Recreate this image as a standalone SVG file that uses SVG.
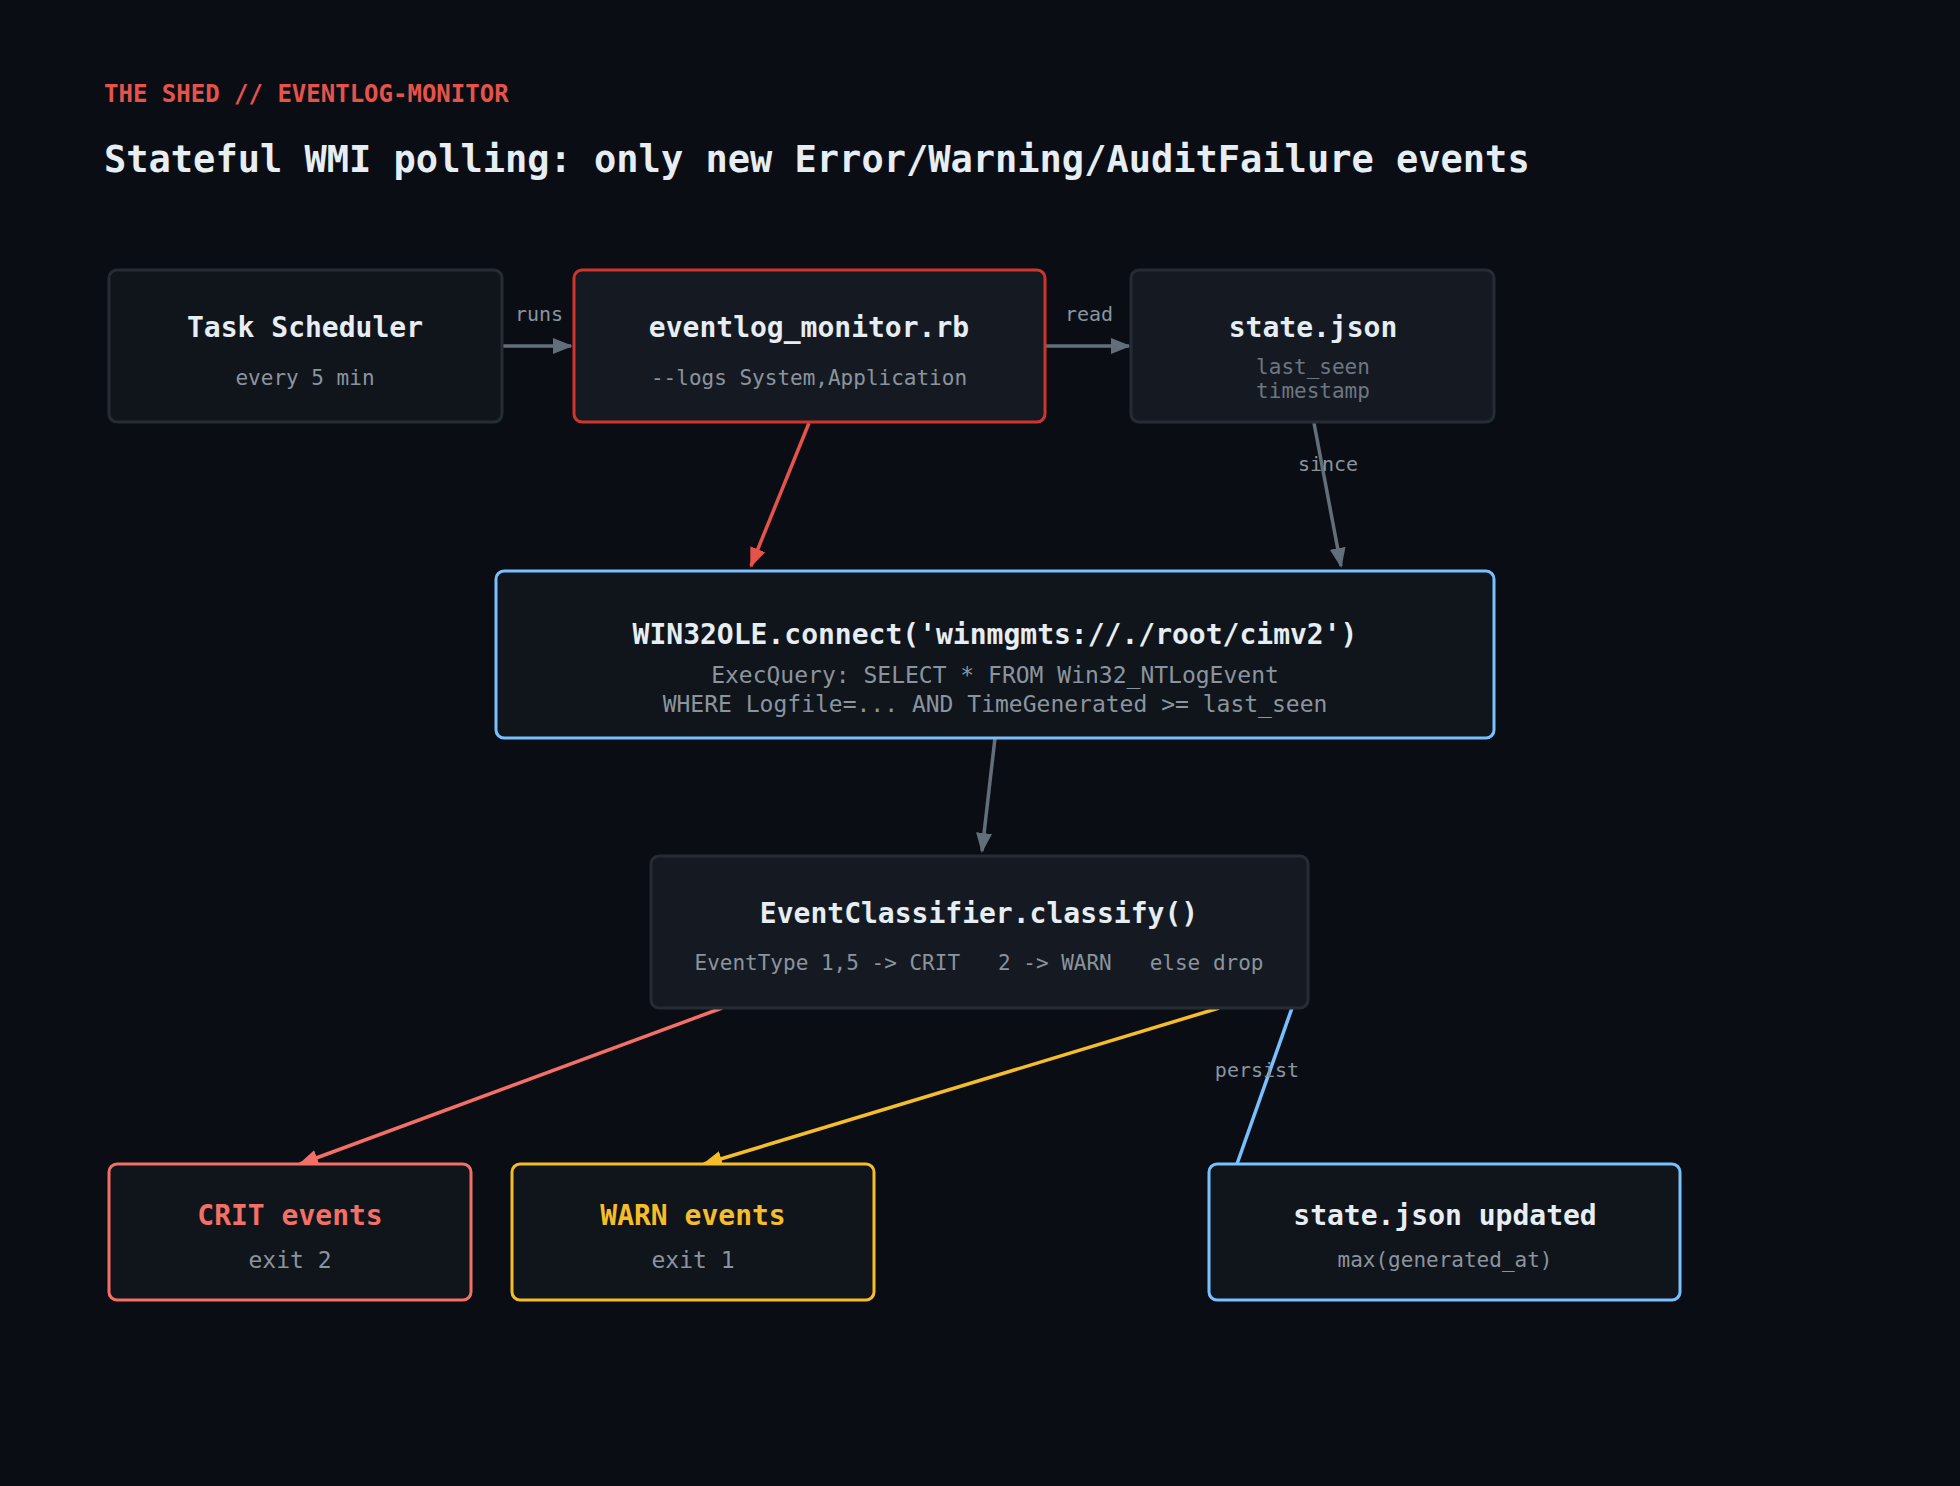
<svg xmlns="http://www.w3.org/2000/svg" width="1960" height="1486" viewBox="0 0 1960 1486">
<defs>
<style>
text{font-family:"DejaVu Sans Mono","Liberation Mono",monospace;text-anchor:middle}
.t{font-size:28px;font-weight:bold;fill:#e6edf3}
.s{font-size:21px;fill:#8b949e}
.d{font-size:21px;fill:#6e7681}
.l{font-size:20px;fill:#8b949e}
.box{fill:#10151c;stroke:#262c36;stroke-width:3}
.e{fill:none;stroke-width:3.5}
</style>
<marker id="ag" viewBox="0 0 10 10" refX="9" refY="5" markerWidth="6" markerHeight="6" orient="auto" markerUnits="userSpaceOnUse" style="overflow:visible"><path d="M0,0L10,5L0,10z" fill="#636e7b" transform="scale(2.2) translate(-5,-5) translate(5,5)"/></marker>
<marker id="g" viewBox="0 0 20 20" refX="18" refY="10" markerWidth="20" markerHeight="20" orient="auto" markerUnits="userSpaceOnUse"><path d="M0,2L20,10L0,18z" fill="#636e7b"/></marker>
<marker id="r" viewBox="0 0 20 20" refX="18" refY="10" markerWidth="20" markerHeight="20" orient="auto" markerUnits="userSpaceOnUse"><path d="M0,2L20,10L0,18z" fill="#e5534b"/></marker>
<marker id="p" viewBox="0 0 20 20" refX="18" refY="10" markerWidth="20" markerHeight="20" orient="auto" markerUnits="userSpaceOnUse"><path d="M0,2L20,10L0,18z" fill="#f47067"/></marker>
<marker id="y" viewBox="0 0 20 20" refX="18" refY="10" markerWidth="20" markerHeight="20" orient="auto" markerUnits="userSpaceOnUse"><path d="M0,2L20,10L0,18z" fill="#f6bd2b"/></marker>
</defs>
<rect width="1960" height="1486" fill="#0a0e14"/>
<text x="104" y="102" style="text-anchor:start;font-size:24px;font-weight:bold;fill:#e5534b">THE SHED // EVENTLOG-MONITOR</text>
<text x="104" y="172" style="text-anchor:start;font-size:37px;font-weight:bold;fill:#e6edf3">Stateful WMI polling: only new Error/Warning/AuditFailure events</text>
<g id="connectors">
<line class="e" stroke="#636e7b" x1="503" y1="346" x2="571" y2="346" marker-end="url(#g)"/>
<text class="l" x="539" y="321">runs</text>
<line class="e" stroke="#636e7b" x1="1046" y1="346" x2="1129" y2="346" marker-end="url(#g)"/>
<text class="l" x="1089" y="321">read</text>
<line class="e" stroke="#e5534b" x1="809" y1="423" x2="751" y2="566" marker-end="url(#r)"/>
<line class="e" stroke="#636e7b" x1="1314" y1="423" x2="1341" y2="566" marker-end="url(#g)"/>
<text class="l" x="1328" y="471">since</text>
<line class="e" stroke="#636e7b" x1="995" y1="738" x2="982" y2="851" marker-end="url(#g)"/>
<line class="e" stroke="#f47067" x1="722" y1="1008" x2="300" y2="1164" marker-end="url(#p)"/>
<line class="e" stroke="#f6bd2b" x1="1219" y1="1008" x2="704" y2="1164" marker-end="url(#y)"/>
<line class="e" stroke="#79c0ff" x1="1292" y1="1008" x2="1237" y2="1164"/>
<text class="l" x="1257" y="1077">persist</text>
</g>
<g id="task-scheduler"><rect class="box" x="109" y="270" width="393" height="152" rx="8"/><text class="t" x="305" y="337">Task Scheduler</text><text class="s" x="305" y="385">every 5 min</text></g>
<g id="eventlog-monitor"><rect class="box" style="stroke:#d0342c;fill:#151a22" x="574" y="270" width="471" height="152" rx="8"/><text class="t" x="809" y="337">eventlog_monitor.rb</text><text class="s" x="809" y="385">--logs System,Application</text></g>
<g id="state-json"><rect class="box" style="fill:#151a22" x="1131" y="270" width="363" height="152" rx="8"/><text class="t" x="1313" y="337">state.json</text><text class="d" x="1313" y="374">last_seen</text><text class="d" x="1313" y="398">timestamp</text></g>
<g id="win32ole"><rect class="box" style="stroke:#79c0ff" x="496" y="571" width="998" height="167" rx="8"/><text class="t" x="995" y="644">WIN32OLE.connect('winmgmts://./root/cimv2')</text><text class="s" style="font-size:23px" x="995" y="683">ExecQuery: SELECT * FROM Win32_NTLogEvent</text><text class="s" style="font-size:23px" x="995" y="712">WHERE Logfile=... AND TimeGenerated &gt;= last_seen</text></g>
<g id="classifier"><rect class="box" style="fill:#151a22" x="651" y="856" width="657" height="152" rx="8"/><text class="t" x="979" y="923">EventClassifier.classify()</text><text class="s" x="979" y="970" xml:space="preserve">EventType 1,5 -&gt; CRIT   2 -&gt; WARN   else drop</text></g>
<g id="crit"><rect class="box" style="stroke:#f47067" x="109" y="1164" width="362" height="136" rx="8"/><text class="t" style="fill:#f47067" x="290" y="1225">CRIT events</text><text class="s" style="font-size:23px" x="290" y="1268">exit 2</text></g>
<g id="warn"><rect class="box" style="stroke:#f6bd2b" x="512" y="1164" width="362" height="136" rx="8"/><text class="t" style="fill:#f6bd2b" x="693" y="1225">WARN events</text><text class="s" style="font-size:23px" x="693" y="1268">exit 1</text></g>
<g id="state-updated"><rect class="box" style="stroke:#79c0ff" x="1209" y="1164" width="471" height="136" rx="8"/><text class="t" x="1445" y="1225">state.json updated</text><text class="s" x="1445" y="1267">max(generated_at)</text></g>
</svg>
